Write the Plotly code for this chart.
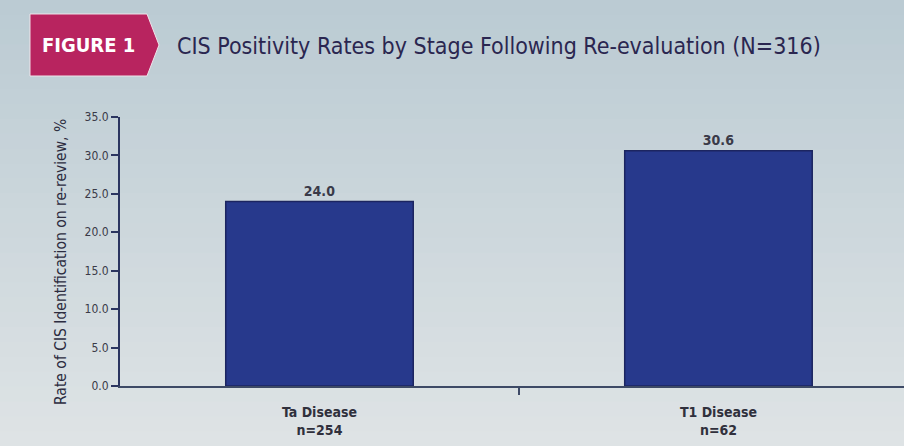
import plotly.graph_objects as go

# ---- data ----
categories = ["Ta Disease<br>n=254", "T1 Disease<br>n=62"]
rates = [24.0, 30.6]
rate_labels = ["24.0", "30.6"]
y_ticks = [0, 5, 10, 15, 20, 25, 30, 35]
y_tick_text = ["0.0", "5.0", "10.0", "15.0", "20.0", "25.0", "30.0", "35.0"]

W, H = 904, 446
L, R, T, B = 120, 0, 117, 60
PW, PH = W - L - R, H - T - B

def px(x):
    return (x - L) / PW

def py(y):
    return (H - B - y) / PH

FONT = "DejaVu Sans Condensed, Roboto, Liberation Sans, sans-serif"
NAVY = "#2b3560"

fig = go.Figure()
fig.add_trace(go.Bar(
    x=categories, y=rates, text=rate_labels, textposition="outside",
    textfont=dict(family=FONT, size=14, color="#3a3a48", weight="bold"),
    marker=dict(color="#27398c", line=dict(color="#1c2560", width=1.5)),
    width=0.47, cliponaxis=False, hoverinfo="skip",
))
# invisible helper trace on a second x axis carrying the mid tick
fig.add_trace(go.Scatter(x=[0.5], y=[0], xaxis="x2", mode="markers",
                         marker=dict(opacity=0), hoverinfo="skip", showlegend=False))

shapes = []
# vertical gradient background
top = (187, 203, 211)
bot = (222, 227, 229)
n = 30
for i in range(n):
    f = i / (n - 1)
    c = tuple(round(top[k] + (bot[k] - top[k]) * f) for k in range(3))
    y0 = i * H / n
    y1 = (i + 1) * H / n + 1
    shapes.append(dict(type="rect", xref="paper", yref="paper",
                       x0=px(0), x1=px(W), y0=py(y1), y1=py(y0),
                       fillcolor="rgb(%d,%d,%d)" % c, line=dict(width=0), layer="below"))
# badge
bx0, bx1, btip, by0, by1 = 30, 147, 159, 14, 76
path = "M %f %f L %f %f L %f %f L %f %f L %f %f Z" % (
    px(bx0), py(by0), px(bx1), py(by0), px(btip), py((by0 + by1) / 2),
    px(bx1), py(by1), px(bx0), py(by1))
shapes.append(dict(type="path", xref="paper", yref="paper", path=path,
                   fillcolor="#b8245f", line=dict(color="#f0e4ea", width=1)))

annotations = [
    dict(text="<b>FIGURE 1</b>", x=px(88), y=py(45), xref="paper", yref="paper",
         showarrow=False, font=dict(family=FONT, size=20, color="white"),
         xanchor="center", yanchor="middle"),
    dict(text="CIS Positivity Rates by Stage Following Re-evaluation (N=316)",
         x=px(175), y=py(46), xref="paper", yref="paper", showarrow=False,
         font=dict(family=FONT, size=23, color="#2a2650", weight=500),
         xanchor="left", yanchor="middle"),
    dict(text="Rate of CIS Identification on re-review, %", textangle=-90,
         x=px(61), y=py(262), xref="paper", yref="paper", showarrow=False,
         font=dict(family=FONT, size=15.5, color="#2c2c40"),
         xanchor="center", yanchor="middle"),
]

fig.update_layout(
    width=W, height=H,
    margin=dict(l=L, r=R, t=T, b=B, pad=0),
    paper_bgcolor="rgb(205,215,220)", plot_bgcolor="rgba(0,0,0,0)",
    showlegend=False, shapes=shapes, annotations=annotations,
    xaxis=dict(range=[-0.5, 1.465], showline=True, linecolor="#3d4a66", linewidth=2,
               ticks="", showgrid=False, zeroline=False, ticklabelstandoff=12,
               tickfont=dict(family=FONT, size=14, color="#30303c", weight="bold")),
    xaxis2=dict(range=[-0.5, 1.465], overlaying="x", side="bottom", anchor="y",
                tickvals=[0.5], ticktext=[""], ticks="outside", ticklen=8,
                tickcolor="#3d4a66", tickwidth=1.5, showgrid=False, zeroline=False,
                showline=False),
    yaxis=dict(range=[0, 35], tickvals=y_ticks, ticktext=y_tick_text,
               showline=True, linecolor=NAVY, linewidth=2, ticks="outside",
               ticklen=7, tickcolor=NAVY, tickwidth=1.5, showgrid=False,
               zeroline=False, tickfont=dict(family=FONT, size=12, color="#3a3a48")),
)

fig.write_html("out.html")
